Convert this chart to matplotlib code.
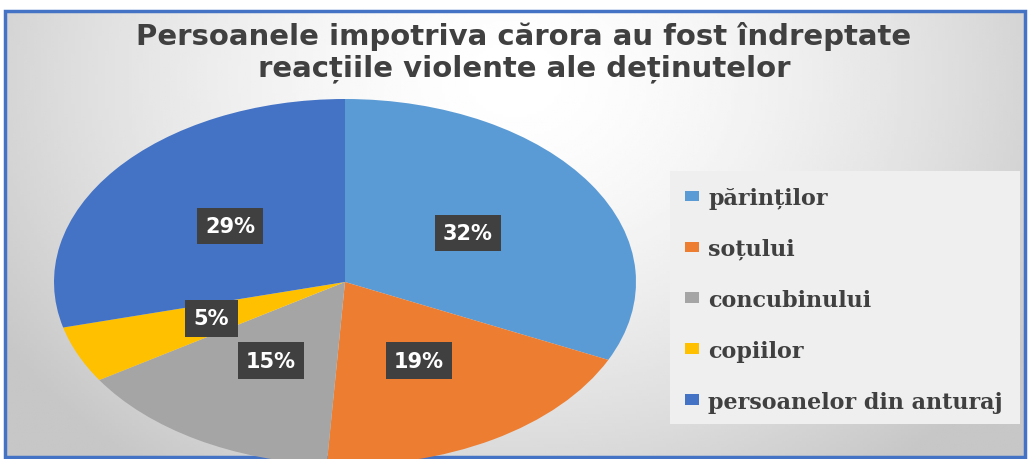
import matplotlib.pyplot as plt
import numpy as np
from matplotlib.patches import Rectangle

categorii = ['părinților', 'soțului', 'concubinului', 'copiilor', 'persoanelor din anturaj']
procente = [32, 19, 15, 5, 29]
culori = ['#5B9BD5', '#ED7D31', '#A5A5A5', '#FFC000', '#4472C4']
titlu = ['Persoanele impotriva cărora au fost îndreptate',
         'reacțiile violente ale deținutelor']

W, H = 1028, 460
fig = plt.figure(figsize=(W / 100, H / 100), dpi=100)

# fundal cu gradient radial (gri la margini)
bg = fig.add_axes([0, 0, 1, 1])
bg.set_xlim(0, W)
bg.set_ylim(H, 0)
bg.axis('off')
xx, yy = np.meshgrid(np.linspace(0, 1, 300), np.linspace(0, 1, 150))
d = np.sqrt(((xx - 0.5) / 0.6) ** 2 + ((yy - 0.15) / 1.1) ** 2)
g = np.clip(1.0 - 0.22 * d ** 1.6, 0.78, 1.0)
bg.imshow(g, cmap='gray', vmin=0, vmax=1, extent=[5, 1025, 458, 12], aspect='auto', zorder=0)
bg.add_patch(Rectangle((5, 12), 1020, 446, fill=False, edgecolor='#4472C4', lw=2.5, zorder=2))
# caseta legendei
bg.add_patch(Rectangle((670, 172), 350, 253, facecolor='#EFEFEF', edgecolor='none', zorder=1))

# titlul, doua randuri
for i, rand in enumerate(titlu):
    bg.text(524, 45 + 31 * i, rand, ha='center', va='baseline', fontsize=21, color='#404040',
            family='DejaVu Sans', fontweight='bold', zorder=3)

# pie eliptic
px0, px1, py0, py1 = 54, 636, 100, 466
ax = fig.add_axes([px0 / W, (H - py1) / H, (px1 - px0) / W, (py1 - py0) / H])
wedges, texte, pcts = ax.pie(procente, colors=culori, startangle=90, counterclock=False,
                             autopct='%d%%', pctdistance=0.5,
                             wedgeprops=dict(edgecolor='none'))
ax.set_aspect('auto')
ax.set_xlim(-1, 1)
ax.set_ylim(-1, 1)
for t in pcts:
    t.set_color('white')
    t.set_fontsize(15)
    t.set_fontweight('bold')
    t.set_family('DejaVu Sans')
    t.set_bbox(dict(boxstyle='square,pad=0.4', facecolor='#404040', edgecolor='none'))

leg = fig.legend(wedges, categorii, loc='upper left', bbox_to_anchor=(665 / W, 1 - 168 / H),
                 frameon=False, prop=dict(family='DejaVu Serif', weight='bold', size=16),
                 labelspacing=1.3, handlelength=0.62, handleheight=0.36, handletextpad=0.42)
for t in leg.get_texts():
    t.set_color('#404040')

fig.savefig('out.png', dpi=100)
